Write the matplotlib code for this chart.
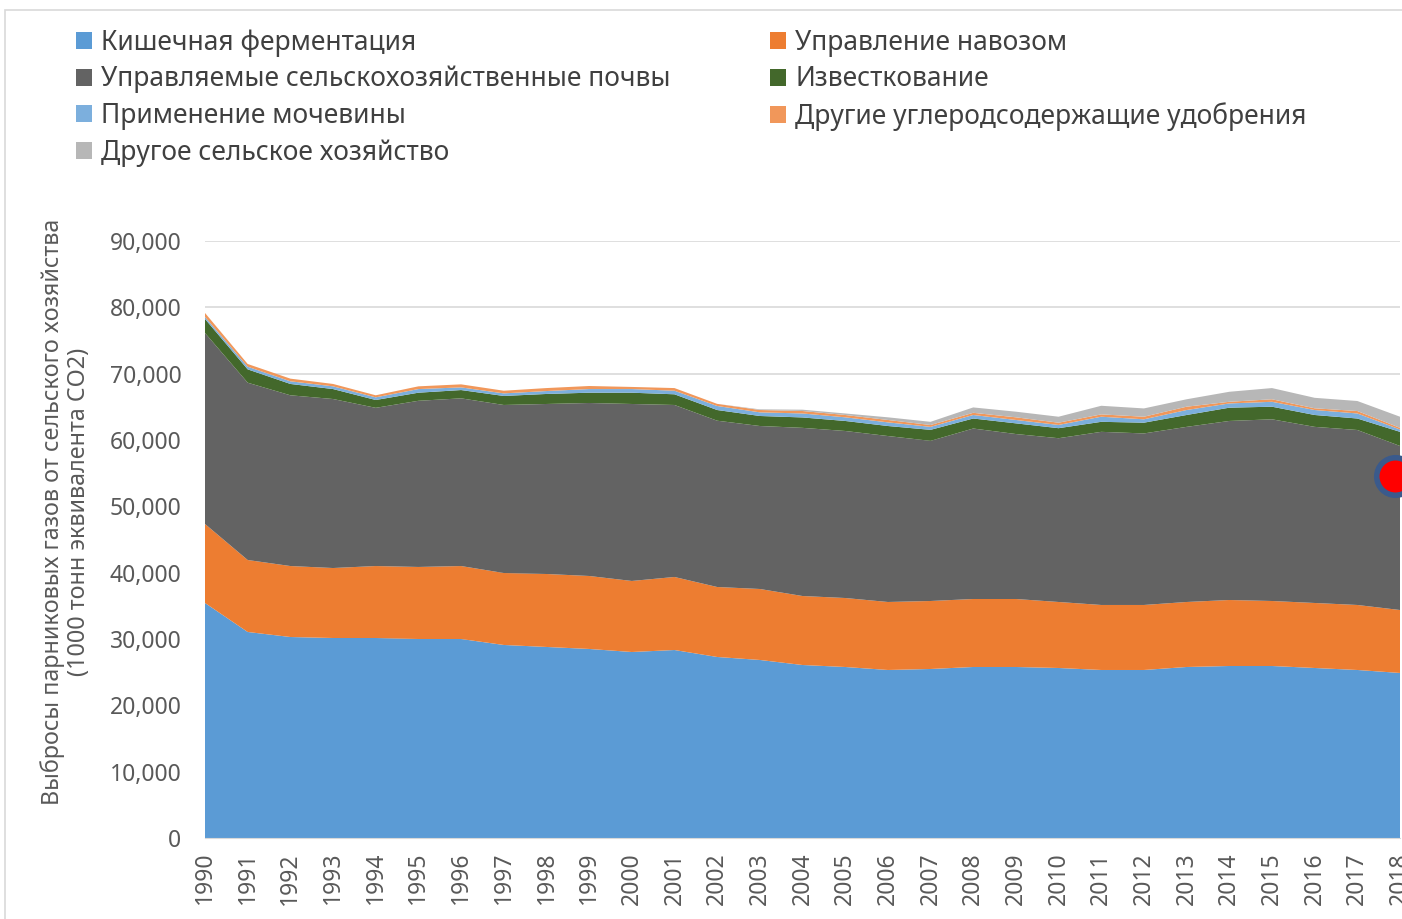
import numpy as np
import matplotlib.pyplot as plt
from matplotlib.patches import Rectangle

plt.rcParams['font.family'] = ['Noto Sans', 'DejaVu Sans']

# Data (1000 t CO2 eq)
years = list(range(1990, 2019))
enteric = [35430, 31060, 30300, 30150, 30150, 30000, 30000, 29100, 28800, 28500,
           28040, 28340, 27290, 26840, 26080, 25780, 25330, 25480, 25780, 25780,
           25630, 25330, 25330, 25780, 25930, 25930, 25630, 25330, 24880]
manure = [11910, 10850, 10700, 10550, 10850, 10860, 11000, 10850, 11000, 11000,
          10710, 11010, 10550, 10700, 10400, 10400, 10250, 10250, 10250, 10250,
          9950, 9800, 9800, 9800, 9950, 9800, 9800, 9800, 9490]
soils = [28790, 26730, 25740, 25480, 23850, 25050, 25280, 25330, 25630, 26080,
         26680, 25930, 25070, 24570, 25350, 25180, 25020, 24140, 25700, 24870,
         24690, 26100, 25860, 26400, 26990, 27390, 26550, 26380, 24730]
liming = [2120, 2010, 1710, 1500, 1180, 1220, 1250, 1360, 1510, 1550,
          1700, 1610, 1610, 1510, 1570, 1510, 1510, 1660, 1510, 1610,
          1510, 1510, 1620, 1790, 2000, 1900, 1790, 1730, 2130]
urea = [300, 400, 400, 410, 400, 550, 400, 390, 440, 550,
        550, 540, 610, 550, 600, 550, 550, 450, 530, 510,
        490, 770, 510, 750, 640, 740, 750, 760, 350]
other_fert = [600, 410, 400, 360, 310, 410, 460, 400, 450, 460,
              320, 400, 320, 350, 370, 350, 360, 280, 330, 400,
              340, 350, 390, 500, 250, 380, 260, 370, 250]
other_agri = [0, 0, 0, 0, 0, 0, 0, 0, 0, 0,
              0, 0, 0, 100, 200, 230, 400, 480, 810, 850,
              900, 1300, 1250, 1120, 1510, 1690, 1580, 1510, 1680]

labels = ['Кишечная ферментация', 'Управление навозом',
          'Управляемые сельскохозяйственные почвы', 'Известкование',
          'Применение мочевины', 'Другие углеродсодержащие удобрения',
          'Другое сельское хозяйство']
colors = ['#5B9BD5', '#ED7D31', '#636363', '#43682B', '#7CAFDD', '#F1975A', '#B7B7B7']

marker_year = 2017.88
marker_value = 54600

fig = plt.figure(figsize=(14.02, 9.19), dpi=100)
ax = fig.add_axes([205 / 1402, 81 / 919, 1195 / 1402, 597 / 919])

polys = ax.stackplot(years, enteric, manure, soils, liming, urea, other_fert, other_agri,
                     colors=colors, labels=labels, linewidth=0)

ax.set_xlim(1990, 2018)
ax.set_ylim(0, 90000)
ax.set_yticks(np.arange(0, 90001, 10000))
ax.set_yticklabels([f'{v:,}' for v in range(0, 90001, 10000)])
ax.set_xticks(years)
ax.set_xticklabels([str(y) for y in years], rotation=90)
ax.tick_params(axis='both', length=0, labelsize=16.5, colors='#595959')
ax.tick_params(axis='y', pad=17)
ax.tick_params(axis='x', pad=10)
ax.grid(axis='y', color='#D9D9D9', linewidth=1.2)
ax.set_axisbelow(True)
for s in ['left', 'right', 'top']:
    ax.spines[s].set_visible(False)
ax.spines['bottom'].set_color('#D9D9D9')

ax.set_ylabel('Выбросы парниковых газов от сельского хозяйства\n(1000 тонн эквивалента CO2)',
              fontsize=16.8, color='#595959', linespacing=1.15)
ax.yaxis.set_label_coords(-0.095, 0.546)

# red marker at the right edge
ax.plot([marker_year], [marker_value], 'o', markersize=27, markerfacecolor='#FF0000',
        markeredgecolor='#3A5A8C', markeredgewidth=4, clip_on=False, zorder=5)

# legend: column-major order for ncol=2
order = [0, 2, 4, 6, 1, 3, 5]
handles = [polys[i] for i in order]
fig.legend(handles, [labels[i] for i in order], ncol=2, loc='upper left',
           bbox_to_anchor=(52 / 1402, 1 - 5 / 919), frameon=False, fontsize=19,
           handlelength=0.62, handleheight=0.62, handletextpad=0.35,
           columnspacing=3.75, labelspacing=0.33, labelcolor='#404040')

# chart frame
fig.patches.append(Rectangle((5 / 1402, -0.05), 1.2, 1 - 10 / 919 + 0.05,
                             transform=fig.transFigure, fill=False,
                             edgecolor='#D9D9D9', linewidth=1.2))

fig.savefig('out.png', dpi=100)
